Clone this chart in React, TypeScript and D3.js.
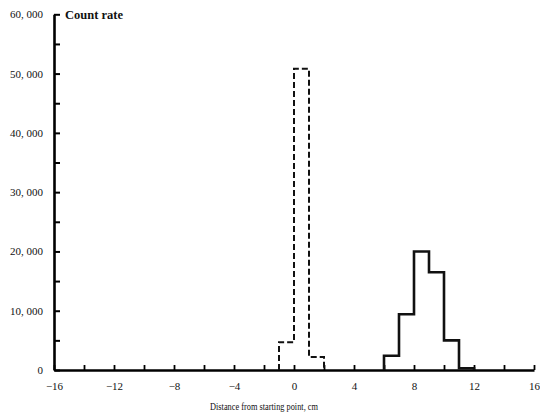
import {useEffect, useRef} from "react";
import * as d3 from "d3";

// dashed histogram (starting position), bins of 1 cm
const startBins = [-1, 0, 1];
const startCounts = [4700, 50800, 2200];

// solid histogram (after run)
const runBins = [6, 7, 8, 9, 10, 11];
const runCounts = [2400, 9400, 20000, 16500, 5000, 300];

const yTicks = [0, 5000, 10000, 15000, 20000, 25000, 30000, 35000, 40000, 45000, 50000, 55000, 60000];
const xTicks = [-16, -14, -12, -10, -8, -6, -4, -2, 0, 2, 4, 6, 8, 10, 12, 14, 16];

const yTitle = "Count rate";
const xTitle = "Distance from starting point, cm";

function App() {
    const myNode = useRef<SVGSVGElement>(null);

    useEffect(() => {
        const width = 540;
        const height = 417;
        const svg = d3.select(myNode.current);
        svg.selectAll("*").remove();
        svg.attr("width", width).attr("height", height);

        const xScale = d3.scaleLinear().domain([-16, 16]).range([54, 534]);
        const yScale = d3.scaleLinear().domain([0, 60000]).range([370, 14.3]);

        const font = "'Liberation Serif', 'DejaVu Serif', serif";

        // y axis
        const yAxis = svg.append("g")
            .attr("transform", `translate(${xScale(-16)},0)`)
            .call(d3.axisLeft(yScale)
                .tickValues(yTicks)
                .tickSizeInner(-6)
                .tickSizeOuter(0)
                .tickPadding(11)
                .tickFormat(d => {
                    const v = +d;
                    if (v % 10000 !== 0) return "";
                    return d3.format(",")(v).replace(",", ", ");
                }));
        yAxis.select(".domain").attr("stroke-width", 2.6);
        yAxis.selectAll(".tick line").attr("stroke-width", 2);
        yAxis.selectAll("text")
            .attr("font-family", font)
            .attr("font-size", 11)
            .attr("fill", "#111");

        // x axis
        const xAxis = svg.append("g")
            .attr("transform", `translate(0,${yScale(0)})`)
            .call(d3.axisBottom(xScale)
                .tickValues(xTicks)
                .tickSizeInner(-5)
                .tickSizeOuter(0)
                .tickPadding(12)
                .tickFormat(d => {
                    const v = +d;
                    if (v % 4 !== 0) return "";
                    return v < 0 ? "\u2212" + Math.abs(v) : String(v);
                }));
        xAxis.select(".domain").attr("stroke-width", 2.6);
        xAxis.selectAll(".tick line").attr("stroke-width", 1.8);
        xAxis.selectAll("text")
            .attr("font-family", font)
            .attr("font-size", 11)
            .attr("fill", "#111");

        // histogram outlines
        const stepPoints = (bins: number[], counts: number[]) => {
            const pts: [number, number][] = [[bins[0], 0]];
            bins.forEach((b, i) => pts.push([b, counts[i]]));
            const end = bins[bins.length - 1] + 1;
            pts.push([end, counts[counts.length - 1]]);
            pts.push([end, 0]);
            return pts;
        };
        const line = d3.line<[number, number]>()
            .x(d => xScale(d[0]))
            .y(d => yScale(d[1]))
            .curve(d3.curveStepAfter);

        svg.append("path")
            .attr("d", line(stepPoints(startBins, startCounts)))
            .attr("fill", "none")
            .attr("stroke", "#111")
            .attr("stroke-width", 2)
            .attr("stroke-dasharray", "6,3");

        svg.append("path")
            .attr("d", line(stepPoints(runBins, runCounts)))
            .attr("fill", "none")
            .attr("stroke", "#111")
            .attr("stroke-width", 2.6);

        // titles
        svg.append("text")
            .attr("x", 65)
            .attr("y", 19)
            .attr("font-family", font)
            .attr("font-size", 11.5)
            .attr("font-weight", "bold")
            .attr("textLength", 58)
            .attr("lengthAdjust", "spacingAndGlyphs")
            .attr("fill", "#111")
            .text(yTitle);

        svg.append("text")
            .attr("x", 210)
            .attr("y", 410)
            .attr("font-family", font)
            .attr("font-size", 10)
            .attr("textLength", 108)
            .attr("lengthAdjust", "spacingAndGlyphs")
            .attr("fill", "#111")
            .text(xTitle);
    }, []);

    return (
        <div>
            <svg ref={myNode} style={{position: "absolute", left: 0, top: 0, background: "#fff"}}></svg>
        </div>
    );
}

export default App;
